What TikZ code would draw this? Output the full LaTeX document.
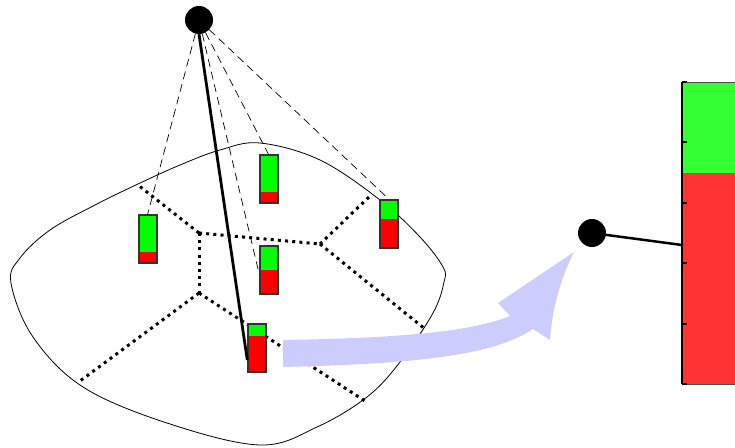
\documentclass[tikz,border=0pt]{standalone}
\usetikzlibrary{calc}
\definecolor{bargreen}{HTML}{00FF00}
\definecolor{barred}{HTML}{FF0000}
\definecolor{biggreen}{HTML}{33FF33}
\definecolor{bigred}{HTML}{FF3333}
\definecolor{arrowblue}{HTML}{CCCCFF}
\begin{document}
\begin{tikzpicture}[x=1pt,y=-1pt,
  dot/.style={circle,fill=black,minimum size=28pt,inner sep=0pt},
  minibar/.style={rectangle,fill=bargreen,
    minimum width=18pt,minimum height=48pt,inner sep=0pt,
    path picture={\fill[barred] (path picture bounding box.south west) rectangle ([yshift=#1pt]path picture bounding box.south east);},
    postaction={draw=black!80,line width=2pt}},
  vor/.style={line width=3pt,dash pattern=on 3pt off 4.2pt},
  proj/.style={line width=0.7pt,dash pattern=on 8pt off 5pt},
  blob/.style={line width=0.8pt},
  tick/.style={line width=2pt}]
\useasboundingbox (0,0) rectangle (735,447);
\clip (0,0) rectangle (735,447);
% region outline
\draw[blob] plot[smooth cycle,tension=0.6] coordinates {(11,283) (20,258) (50,230) (95,205) (138,184) (180,165) (220,150) (260,143) (320,160) (380,200) (420,237) (443,267) (444,282) (433,313) (400,362) (367,397) (317,427) (260,445) (167,423) (83,387) (33,337)};
% voronoi edges
\coordinate (v1) at (199,233);
\coordinate (v2) at (199,293);
\coordinate (v3) at (320,244);
\coordinate (e1) at (138,185);
\coordinate (e2) at (370,196);
\coordinate (e3) at (425,329);
\coordinate (e4) at (80,381);
\coordinate (e5) at (365,401);
\draw[vor] (v1) -- (v2);
\draw[vor] (v1) -- (e1);
\draw[vor] (v1) -- (v3);
\draw[vor] (v3) -- (e2);
\draw[vor] (v3) -- (e3);
\draw[vor] (v2) -- (e4);
\draw[vor] (v2) -- (e5);
% bars
\node[minibar=11] (A) at (147.5,239) {};
\node[minibar=11] (B) at (268.5,178.5) {};
\node[minibar=29] (C) at (389,223.5) {};
\node[minibar=24] (D) at (268.5,269.5) {};
\node[minibar=36] (E) at (256.5,348) {};
% top viewpoint
\node[dot] (top) at (199,20) {};
\draw[proj] (top) -- (A.north);
\draw[proj] (top) -- (B.north);
\draw[proj] (top) -- (C.north);
\draw[proj] (top) -- ([yshift=-5pt]D.west);
\draw[line width=2.8pt] (top.south) -- ([yshift=-12pt]E.west);
% arrow
\fill[arrowblue] (283,340) .. controls (400,338) and (470,332) .. (510,316)
  -- (498,303) -- (574,252) .. controls (560,280) and (552,310) .. (550,340)
  -- (533,329) .. controls (490,358) and (400,364) .. (283,367) -- cycle;
% right side
\fill[biggreen] (682,82) rectangle (740,173);
\fill[bigred] (682,173) rectangle (740,384);
\draw[black!70,line width=0.6pt] (740,82) -- (682,82) (682,384) -- (740,384);
\draw[line width=1.5pt] (682,82) -- (682,384);
\foreach \y in {82,142.4,202.8,263.2,323.6,384} \draw[tick] (682,\y) -- (687,\y);
\node[dot] (rdot) at (592,233) {};
\coordinate (hit) at (682,245);
\draw[line width=2.5pt] (rdot) -- (hit);
\end{tikzpicture}
\end{document}
